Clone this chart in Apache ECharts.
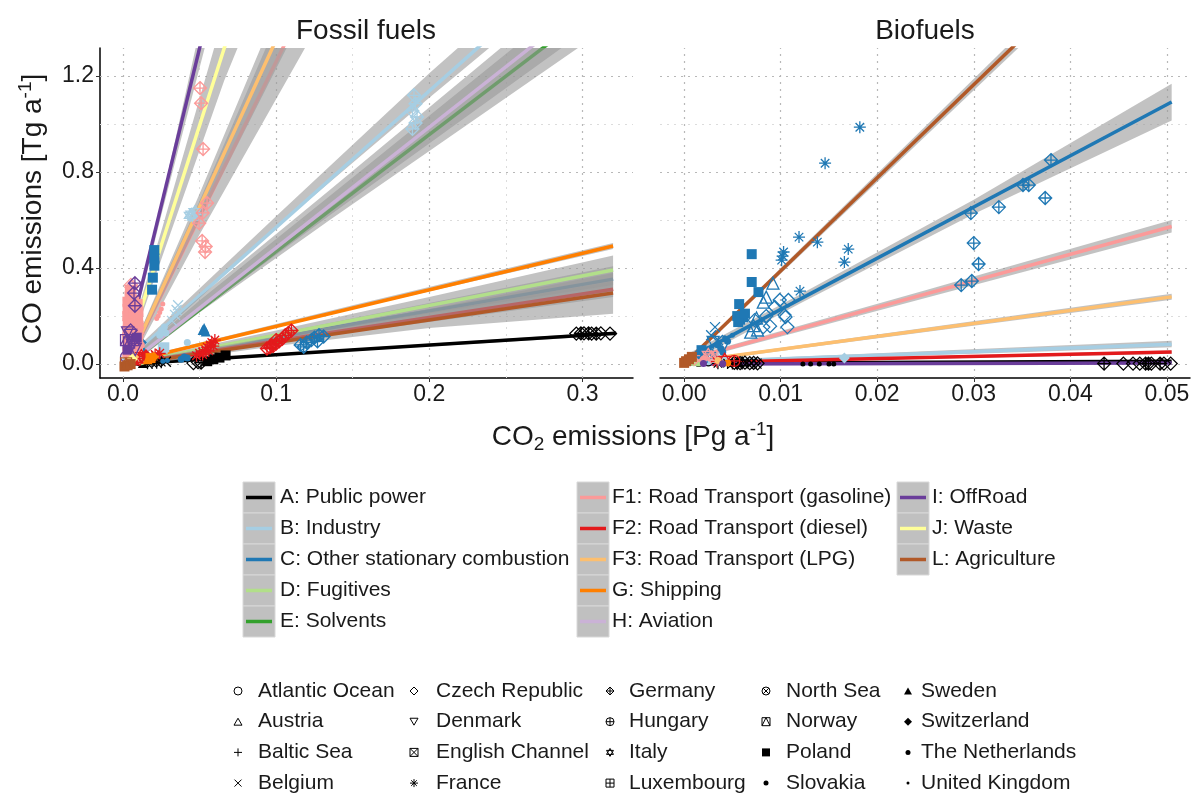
<!DOCTYPE html>
<html><head><meta charset="utf-8">
<script src="https://cdn.jsdelivr.net/npm/echarts@6/dist/echarts.min.js"></script>
<style>html,body{margin:0;padding:0;background:#fff}#c{width:1193px;height:794px}</style>
</head><body><div id="c"></div>
<script>
// ---------------- DATA ----------------
const sectorNames = ['A: Public power','B: Industry','C: Other stationary combustion','D: Fugitives','E: Solvents',
  'F1: Road Transport (gasoline)','F2: Road Transport (diesel)','F3: Road Transport (LPG)','G: Shipping','H: Aviation',
  'I: OffRoad','J: Waste','L: Agriculture'];
const countryNames = ['Atlantic Ocean','Austria','Baltic Sea','Belgium','Czech Republic','Denmark','English Channel',
  'France','Germany','Hungary','Italy','Luxembourg','North Sea','Norway','Poland','Slovakia','Sweden','Switzerland',
  'The Netherlands','United Kingdom'];
const panelTitles = ['Fossil fuels','Biofuels'];
const xTicksFossil = [0, 0.1, 0.2, 0.3];
const xMinorFossil = [0.05, 0.15, 0.25];
const xTicksBio = [0, 0.01, 0.02, 0.03, 0.04, 0.05];
const xMinorBio = [0.005, 0.015, 0.025, 0.035, 0.045];
const yTicks = [0, 0.4, 0.8, 1.2];
const yMinor = [0.2, 0.6, 1.0];

// regression lines: [sector, x0, y0, x1, y1]
const fossilFits = [
  [0, 0.004, 0.000, 0.322, 0.128],
  [1, 0.004, 0.023, 0.300, 1.707],
  [2, 0.004, 0.005, 0.320, 0.354],
  [3, 0.004, 0.003, 0.320, 0.392],
  [4, 0.004, 0.002, 0.300, 1.443],
  [5, 0.003, 0.000, 0.120, 1.520],
  [6, 0.004, 0.002, 0.320, 0.312],
  [7, 0.003, 0.000, 0.115, 1.560],
  [8, 0.004, 0.011, 0.320, 0.492],
  [9, 0.004, 0.002, 0.300, 1.490],
  [10, 0.004, 0.110, 0.060, 1.578],
  [11, 0.004, 0.074, 0.075, 1.494],
  [12, 0.004, 0.000, 0.320, 0.296]
];
// confidence bands: [sector, [[x, lower, upper], ...]]
const fossilBands = [
  [0, [[0.004,-0.005,0.005],[0.15,0.055,0.064],[0.322,0.120,0.136]]],
  [1, [[0.004,0.008,0.038],[0.1,0.568,0.616],[0.2,1.110,1.212],[0.3,1.640,1.775]]],
  [2, [[0.004,0.000,0.010],[0.1,0.102,0.126],[0.2,0.195,0.255],[0.32,0.300,0.408]]],
  [3, [[0.004,-0.003,0.010],[0.1,0.110,0.140],[0.2,0.212,0.280],[0.32,0.330,0.452]]],
  [4, [[0.004,-0.010,0.015],[0.05,0.215,0.265],[0.135,0.600,0.700],[0.3,1.330,1.550]]],
  [5, [[0.003,-0.020,0.020],[0.05,0.540,0.680],[0.12,1.330,1.710]]],
  [6, [[0.004,-0.003,0.008],[0.1,0.090,0.110],[0.2,0.175,0.215],[0.32,0.280,0.345]]],
  [7, [[0.003,-0.015,0.015],[0.05,0.600,0.710],[0.115,1.420,1.700]]],
  [8, [[0.004,0.005,0.017],[0.15,0.230,0.245],[0.32,0.480,0.505]]],
  [9, [[0.004,-0.010,0.020],[0.05,0.220,0.280],[0.135,0.620,0.725],[0.3,1.380,1.600]]],
  [10, [[0.004,0.085,0.135],[0.025,0.620,0.670],[0.06,1.480,1.680]]],
  [11, [[0.004,0.050,0.100],[0.026,0.455,0.575],[0.066,1.180,1.460],[0.075,1.320,1.670]]],
  [12, [[0.004,-0.010,0.010],[0.1,0.075,0.115],[0.2,0.150,0.230],[0.32,0.210,0.380]]]
];
const bioFits = [
  [0, 0.0005, 0.003, 0.0505, 0.012],
  [1, 0.0005, 0.008, 0.0505, 0.083],
  [2, 0.0005, 0.025, 0.0505, 1.092],
  [5, 0.0012, 0.029, 0.0505, 0.573],
  [6, 0.0005, 0.006, 0.0505, 0.050],
  [7, 0.0035, 0.026, 0.0505, 0.280],
  [10, 0.0005, 0.000, 0.0505, 0.004],
  [12, 0.0000, 0.000, 0.0360, 1.397]
];
const bioBands = [
  [1, [[0.0005,0.004,0.012],[0.0505,0.070,0.097]]],
  [2, [[0.0005,0.005,0.045],[0.012,0.252,0.290],[0.03,0.625,0.685],[0.0505,1.015,1.168]]],
  [5, [[0.0012,0.020,0.038],[0.025,0.275,0.308],[0.0505,0.548,0.600]]],
  [6, [[0.0005,0.002,0.010],[0.0505,0.043,0.057]]],
  [7, [[0.0035,0.020,0.032],[0.0505,0.268,0.293]]],
  [12, [[0.0,-0.006,0.006],[0.036,1.370,1.425]]]
];

// points: [sector, country, x, y]
const fossilPoints = [
  [0,4,0.296,0.127],[0,4,0.301,0.128],[0,4,0.306,0.127],[0,4,0.312,0.128],[0,4,0.318,0.127],
  [0,8,0.299,0.128],[0,8,0.304,0.128],[0,8,0.309,0.127],
  [0,4,0.046,0.004],[0,4,0.049,0.008],[0,8,0.051,0.006],[0,14,0.055,0.012],[0,14,0.059,0.020],
  [0,14,0.063,0.027],[0,14,0.067,0.036],[0,7,0.016,0.003],[0,7,0.019,0.005],[0,7,0.022,0.006],
  [0,7,0.025,0.008],[0,3,0.028,0.010],[0,18,0.006,0.000],[0,19,0.010,0.002],[0,16,0.013,0.004],[0,14,0.004,0.001],
  [1,8,0.190,1.120],[1,8,0.191,1.085],[1,8,0.189,1.055],[1,8,0.192,1.030],[1,8,0.191,1.005],[1,8,0.189,0.980],
  [1,10,0.045,0.625],[1,10,0.047,0.635],[1,10,0.046,0.612],[1,10,0.044,0.620],
  [1,3,0.032,0.180],[1,3,0.034,0.205],[1,3,0.035,0.225],[1,3,0.036,0.245],
  [1,18,0.024,0.120],[1,18,0.025,0.140],[1,18,0.027,0.155],[1,18,0.028,0.130],
  [1,14,0.026,0.064],[1,14,0.027,0.070],[1,15,0.042,0.090],[1,17,0.003,0.020],[1,17,0.006,0.040],[1,13,0.009,0.050],
  [2,14,0.0205,0.475],[2,14,0.0205,0.440],[2,14,0.0205,0.410],[2,14,0.0195,0.360],[2,14,0.0190,0.310],
  [2,8,0.116,0.080],[2,8,0.118,0.072],[2,8,0.120,0.090],[2,8,0.123,0.100],[2,8,0.125,0.110],
  [2,8,0.127,0.095],[2,8,0.128,0.120],[2,8,0.131,0.115],
  [2,16,0.052,0.142],[2,16,0.054,0.136],[2,16,0.053,0.150],
  [2,18,0.038,0.020],[2,18,0.040,0.030],[2,18,0.042,0.025],
  [2,18,0.009,0.050],[2,19,0.011,0.070],[2,17,0.012,0.090],[2,15,0.010,0.100],[2,19,0.013,0.060],
  [2,19,0.029,0.015],[2,19,0.026,0.012],
  [3,17,0.005,0.010],[3,18,0.008,0.020],[3,15,0.012,0.010],
  [4,18,0.003,0.000],[4,17,0.006,0.005],
  [5,8,0.0503,1.150],[5,8,0.0510,1.087],[5,8,0.0523,0.896],[5,8,0.0549,0.671],[5,8,0.0520,0.630],
  [5,8,0.0497,0.587],[5,8,0.0517,0.513],[5,8,0.0536,0.467],[5,8,0.0540,0.490],
  [5,14,0.0028,0.050],[5,14,0.0030,0.080],[5,14,0.0027,0.110],[5,14,0.0029,0.140],[5,14,0.0031,0.170],
  [5,14,0.0028,0.200],[5,14,0.0030,0.230],[5,14,0.0029,0.260],
  [5,14,0.0040,0.045],[5,14,0.0042,0.075],[5,14,0.0041,0.105],[5,14,0.0043,0.135],[5,14,0.0040,0.165],
  [5,14,0.0042,0.195],[5,14,0.0041,0.225],[5,14,0.0044,0.255],[5,14,0.0043,0.282],[5,14,0.0045,0.310],
  [5,14,0.0055,0.290],[5,14,0.0058,0.270],
  [5,14,0.0068,0.060],[5,14,0.0070,0.090],[5,14,0.0069,0.120],[5,14,0.0071,0.150],[5,14,0.0072,0.180],
  [5,14,0.0068,0.210],[5,14,0.0070,0.235],[5,14,0.0073,0.260],
  [5,14,0.0098,0.070],[5,14,0.0100,0.100],[5,14,0.0097,0.130],[5,14,0.0102,0.160],[5,14,0.0099,0.190],
  [5,14,0.0101,0.220],[5,14,0.0096,0.250],
  [5,10,0.0090,0.100],[5,10,0.0095,0.140],[5,7,0.0100,0.170],[5,7,0.0085,0.200],[5,18,0.0110,0.050],
  [5,18,0.0120,0.080],[5,4,0.0055,0.320],[5,4,0.0052,0.330],[5,3,0.0080,0.030],
  [5,19,0.023,0.200],[5,19,0.025,0.230],[5,19,0.026,0.250],[5,19,0.024,0.215],[5,19,0.022,0.190],
  [6,7,0.048,0.035],[6,7,0.050,0.045],[6,7,0.052,0.050],[6,7,0.054,0.060],[6,7,0.055,0.070],[6,7,0.057,0.080],
  [6,7,0.058,0.090],[6,7,0.060,0.100],[6,7,0.056,0.055],[6,7,0.052,0.040],[6,7,0.059,0.075],
  [6,8,0.094,0.065],[6,8,0.096,0.070],[6,8,0.098,0.075],[6,8,0.100,0.085],[6,8,0.102,0.095],[6,8,0.104,0.105],
  [6,8,0.106,0.120],[6,8,0.108,0.130],[6,8,0.110,0.140],[6,8,0.100,0.100],[6,8,0.097,0.080],
  [6,10,0.011,0.020],[6,10,0.012,0.035],[6,9,0.014,0.025],[6,16,0.008,0.015],[6,17,0.015,0.040],
  [6,7,0.021,0.040],[6,7,0.024,0.045],[6,7,0.019,0.030],
  [7,18,0.005,0.020],[7,17,0.007,0.030],
  [8,14,0.018,0.025],[8,17,0.020,0.030],[8,16,0.016,0.020],
  [9,18,0.004,0.005],
  [10,8,0.0078,0.337],[10,8,0.0072,0.296],[10,8,0.0078,0.243],
  [10,5,0.003,0.130],[10,5,0.005,0.120],[10,13,0.007,0.100],[10,13,0.004,0.090],[10,5,0.006,0.080],
  [10,14,0.009,0.110],[10,13,0.002,0.100],[10,5,0.008,0.060],[10,14,0.003,0.060],[10,4,0.005,0.140],[10,0,0.002,0.030],
  [11,18,0.004,0.010],[11,17,0.006,0.020],
  [12,14,0.001,-0.010],[12,14,0.003,-0.005],[12,14,0.005,0.000],[12,13,0.002,0.003]
];
const bioPoints = [
  [0,8,0.0435,0.002],[0,4,0.0455,0.002],[0,4,0.0465,0.002],[0,4,0.0472,0.002],[0,8,0.0478,0.002],
  [0,8,0.0481,0.002],[0,4,0.0484,0.002],[0,8,0.0493,0.002],[0,4,0.0497,0.002],[0,4,0.0504,0.002],
  [0,7,0.0035,0.003],[0,7,0.0045,0.004],[0,7,0.0050,0.002],[0,10,0.0055,0.003],[0,10,0.0060,0.005],
  [0,3,0.0070,0.003],[0,3,0.0075,0.002],[0,18,0.0015,0.002],[0,18,0.0025,0.004],
  [0,4,0.0052,0.005],[0,4,0.0058,0.004],[0,4,0.0063,0.006],[0,4,0.0068,0.004],[0,4,0.0072,0.005],[0,4,0.0076,0.003],
  [0,19,0.0123,0.000],[0,19,0.0131,0.000],[0,19,0.0140,0.000],[0,19,0.0150,0.000],[0,19,0.0155,0.000],
  [1,17,0.0166,0.025],[1,10,0.0035,0.020],[1,10,0.0040,0.015],[1,18,0.0025,0.010],[1,15,0.0030,0.035],
  [2,8,0.0297,0.629],[2,8,0.0326,0.654],[2,8,0.0351,0.746],[2,8,0.0357,0.746],[2,8,0.0380,0.850],
  [2,8,0.0374,0.692],[2,8,0.0300,0.504],[2,8,0.0305,0.417],[2,8,0.0298,0.346],[2,8,0.0287,0.329],
  [2,7,0.0182,0.987],[2,7,0.0146,0.837],[2,7,0.0119,0.529],[2,7,0.0138,0.508],[2,7,0.0170,0.479],
  [2,7,0.0166,0.425],[2,7,0.0103,0.467],[2,7,0.0101,0.433],[2,7,0.0120,0.304],[2,7,0.0102,0.450],
  [2,14,0.0070,0.458],[2,14,0.0070,0.342],[2,14,0.0077,0.300],[2,14,0.0057,0.250],[2,14,0.0055,0.200],
  [2,14,0.0058,0.185],[2,14,0.0061,0.195],[2,14,0.0056,0.175],[2,14,0.0063,0.210],[2,14,0.0018,0.058],
  [2,1,0.0092,0.337],[2,1,0.0085,0.279],[2,1,0.0082,0.258],[2,1,0.0069,0.133],[2,1,0.0076,0.142],
  [2,1,0.0075,0.192],[2,1,0.0072,0.160],
  [2,4,0.0099,0.267],[2,4,0.0108,0.267],[2,4,0.0094,0.238],[2,4,0.0104,0.204],[2,4,0.0105,0.196],
  [2,4,0.0107,0.154],[2,4,0.0089,0.158],[2,4,0.0082,0.154],[2,4,0.0073,0.183],[2,4,0.0085,0.200],
  [2,3,0.0032,0.154],[2,3,0.0035,0.100],[2,3,0.0028,0.120],
  [2,5,0.0030,0.090],[2,5,0.0040,0.070],[2,18,0.0025,0.060],[2,18,0.0030,0.040],[2,18,0.0035,0.080],
  [2,18,0.0040,0.050],[2,18,0.0020,0.030],[2,18,0.0045,0.095],[2,19,0.0015,0.020],[2,19,0.0042,0.110],
  [2,19,0.0050,0.120],[2,15,0.0038,0.065],[2,9,0.0025,0.045],[2,11,0.0018,0.030],
  [3,18,0.0015,0.004],[3,18,0.0010,0.006],
  [5,10,0.0025,0.040],[5,10,0.0028,0.030],[5,18,0.0020,0.020],[5,3,0.0015,0.015],
  [6,7,0.0034,0.010],[6,9,0.0052,0.013],[6,10,0.0042,0.020],
  [7,18,0.0035,0.015],
  [8,18,0.0045,0.004],
  [10,18,0.0020,0.002],[10,18,0.0040,0.001],
  [12,14,0.0000,0.005],[12,14,0.0002,0.012],[12,14,0.0005,0.020],[12,14,0.0008,0.030]
];

// ---------------- STYLE ----------------
const FONT = '"Liberation Sans", Arial, Helvetica, sans-serif';
const TXT = '#1a1a1a';
const sectorColors = ['#000000','#A6CEE3','#1F78B4','#B2DF8A','#33A02C','#FB9A99','#E31A1C','#FDBF6F','#FF7F00','#CAB2D6','#6A3D9A','#FFFF99','#B15928'];
const CIRC = 'M0,5 A5,5 0 1,0 10,5 A5,5 0 1,0 0,5 Z';
const shapePaths = [
  CIRC,
  'M5,0 L10,8.66 L0,8.66 Z',
  'M5,0 L5,10 M0,5 L10,5',
  'M0,0 L10,10 M10,0 L0,10',
  'M5,0 L10,5 L5,10 L0,5 Z',
  'M0,0 L10,0 L5,8.66 Z',
  'M0,0 L10,0 L10,10 L0,10 Z M0,0 L10,10 M10,0 L0,10',
  'M5,0 L5,10 M0,5 L10,5 M1.46,1.46 L8.54,8.54 M8.54,1.46 L1.46,8.54',
  'M5,0 L10,5 L5,10 L0,5 Z M5,0 L5,10 M0,5 L10,5',
  CIRC + ' M5,0 L5,10 M0,5 L10,5',
  'M5,0 L9.33,7.5 L0.67,7.5 Z M5,10 L0.67,2.5 L9.33,2.5 Z',
  'M0,0 L10,0 L10,10 L0,10 Z M5,0 L5,10 M0,5 L10,5',
  CIRC + ' M1.46,1.46 L8.54,8.54 M8.54,1.46 L1.46,8.54',
  'M0,0 L10,0 L10,10 L0,10 Z M0,10 L5,0 L10,10',
  'M0,0 L10,0 L10,10 L0,10 Z',
  CIRC,
  'M5,0 L10,8.66 L0,8.66 Z',
  'M5,0 L10,5 L5,10 L0,5 Z',
  CIRC,
  CIRC
];
const shapeFilled = [0,0,0,0,0,0,0,0,0,0,0,0,0,0,1,1,1,1,1,1];
const shapeSize = [11,12,11,10,13,12,11,12,13,11,12,11,11,11,10,7,10,11,7,5];
const legendSize = [8,8,8,7,8,8,8,8,8,8,8,8,8,8,8,5,8,8,5,3];
const BAND = 'rgba(153,153,153,0.6)';

function pointItem(p) {
  const col = sectorColors[p[0]], c = p[1];
  return {
    value: [p[2], p[3]],
    symbol: 'path://' + shapePaths[c],
    symbolSize: shapeSize[c],
    itemStyle: shapeFilled[c] ? {color: col, borderWidth: 0, opacity: 1}
                              : {color: 'rgba(0,0,0,0)', borderColor: col, borderWidth: 1.3, opacity: 1}
  };
}

function panelSeries(pi, fits, bands, points) {
  const ax = {xAxisIndex: pi, yAxisIndex: pi};
  const xt = pi === 0 ? xTicksFossil : xTicksBio;
  const xm = pi === 0 ? xMinorFossil : xMinorBio;
  const major = {color: '#b8b8b8', width: 1.2, type: [2, 5]};
  const minor = {color: '#dcdcdc', width: 1, type: [2, 5]};
  const out = [];
  out.push({
    type: 'scatter', ...ax, data: [], silent: true, z: 1,
    markLine: {
      silent: true, symbol: ['none', 'none'], label: {show: false}, z: 1, animation: false,
      data: [].concat(
        xm.map(v => ({xAxis: v, lineStyle: minor})),
        yMinor.map(v => ({yAxis: v, lineStyle: minor})),
        xt.map(v => ({xAxis: v, lineStyle: major})),
        yTicks.map(v => ({yAxis: v, lineStyle: major}))
      )
    }
  });
  for (let s = 0; s < sectorNames.length; s++) {
    const band = bands.find(b => b[0] === s);
    if (band) {
      const bp = band[1];
      out.push({
        type: 'custom', ...ax, z: 3 + 2 * s, silent: true, clip: true,
        data: bp.map(p => [p[0], p[1], p[2]]),
        encode: {x: 0, y: 1},
        renderItem: function (params, api) {
          if (params.dataIndex !== 0) return null;
          const up = bp.map(p => api.coord([p[0], p[2]]));
          const lo = bp.map(p => api.coord([p[0], p[1]])).reverse();
          return {type: 'polygon', shape: {points: up.concat(lo)}, style: {fill: BAND}, silent: true};
        }
      });
    }
    const fit = fits.find(f => f[0] === s);
    if (fit) {
      out.push({
        type: 'line', ...ax, z: 4 + 2 * s, silent: true, symbol: 'none', clip: true,
        data: [[fit[1], fit[2]], [fit[3], fit[4]]],
        lineStyle: {color: sectorColors[s], width: 3.5},
        itemStyle: {color: sectorColors[s]}
      });
    }
  }
  // points on top of ribbons and fitted lines
  for (let s = 0; s < sectorNames.length; s++) {
    const pts = points.filter(p => p[0] === s);
    if (pts.length) out.push({type: 'scatter', ...ax, z: 40, silent: true, itemStyle: {opacity: 1}, data: pts.map(pointItem)});
  }
  return out;
}

// ---------------- TITLES & LEGENDS (graphic) ----------------
const graphics = [];
graphics.push({type: 'text', x: 366, y: 31, style: {text: panelTitles[0], fontSize: 28, fontFamily: FONT, fill: TXT, align: 'center', verticalAlign: 'middle'}});
graphics.push({type: 'text', x: 925, y: 31, style: {text: panelTitles[1], fontSize: 28, fontFamily: FONT, fill: TXT, align: 'center', verticalAlign: 'middle'}});
graphics.push({type: 'text', x: 33, y: 209, rotation: Math.PI / 2, style: {
  text: '{b|CO emissions [Tg a}{s|-1}{b|]}', fill: TXT, fontFamily: FONT, align: 'center', verticalAlign: 'middle',
  rich: {b: {fontSize: 28, lineHeight: 34, fontFamily: FONT, fill: TXT}, s: {fontSize: 19, lineHeight: 19, verticalAlign: 'top', fontFamily: FONT, fill: TXT}}}});
graphics.push({type: 'text', x: 633, y: 437, style: {
  text: '{b|CO}{t|2}{b| emissions [Pg a}{s|-1}{b|]}', fill: TXT, fontFamily: FONT, align: 'center', verticalAlign: 'middle',
  rich: {b: {fontSize: 28, lineHeight: 34, fontFamily: FONT, fill: TXT},
         s: {fontSize: 19, lineHeight: 19, verticalAlign: 'top', fontFamily: FONT, fill: TXT},
         t: {fontSize: 19, lineHeight: 19, verticalAlign: 'bottom', fontFamily: FONT, fill: TXT}}}});

const secCols = [{bx: 243, tx: 280, from: 0, to: 5}, {bx: 577, tx: 612, from: 5, to: 10}, {bx: 897, tx: 932, from: 10, to: 13}];
secCols.forEach(col => {
  for (let i = col.from; i < col.to; i++) {
    const r = i - col.from;
    const cy = 497.5 + 31 * r;
    graphics.push({type: 'rect', shape: {x: col.bx, y: cy - 15.5, width: 32, height: 31},
      style: {fill: '#c0c0c0', stroke: '#d8d8d8', lineWidth: 1}});
    graphics.push({type: 'line', shape: {x1: col.bx + 3, y1: cy, x2: col.bx + 29, y2: cy},
      style: {stroke: sectorColors[i], lineWidth: 3.5}});
    graphics.push({type: 'text', x: col.tx, y: cy, style: {text: sectorNames[i], fontSize: 21, fontFamily: FONT, fill: TXT, align: 'left', verticalAlign: 'middle'}});
  }
});
const cSymX = [238, 414, 610, 766, 908];
const cTxtX = [258, 436, 629, 786, 921];
countryNames.forEach((name, i) => {
  const col = Math.floor(i / 4), r = i % 4;
  const cy = 691 + 30.7 * r;
  graphics.push({type: 'text', x: cTxtX[col], y: cy, style: {text: name, fontSize: 21, fontFamily: FONT, fill: TXT, align: 'left', verticalAlign: 'middle'}});
});

// country legend symbols, drawn by a custom series in screen space
const legendSymbolSeries = {
  type: 'custom', coordinateSystem: 'none', silent: true, z: 50,
  data: countryNames.map((n, i) => [i]),
  renderItem: function (params, api) {
    const i = params.dataIndex;
    const col = Math.floor(i / 4), r = i % 4;
    const cy = 691 + 30.7 * r, cx = cSymX[col];
    const s = legendSize[i];
    return {
      type: 'path',
      shape: {pathData: shapePaths[i], layout: 'center', x: cx - s / 2, y: cy - s / 2, width: s, height: s},
      style: shapeFilled[i] ? {fill: '#000'} : {fill: 'none', stroke: '#000', lineWidth: 1, strokeNoScale: true},
      silent: true
    };
  }
};

// ---------------- CHART ----------------
const chart = echarts.init(document.getElementById('c'), null, {renderer: 'canvas'});
const axisLineStyle = {color: '#000', width: 1.5};
function xAxisDef(gi, min, max, ticks, digits) {
  return {
    gridIndex: gi, type: 'value', min: min, max: max,
    axisLine: {show: true, onZero: false, lineStyle: axisLineStyle},
    axisTick: {show: true, customValues: ticks, length: 4, lineStyle: {color: '#333'}},
    axisLabel: {customValues: ticks, formatter: v => v.toFixed(digits), fontSize: 23, fontFamily: FONT, color: TXT, margin: 5},
    splitLine: {show: false}
  };
}
chart.setOption({
  animation: false,
  backgroundColor: '#ffffff',
  textStyle: {fontFamily: FONT},
  grid: [
    {left: 100, top: 48, width: 533, height: 330},
    {left: 660, top: 48, width: 530, height: 330}
  ],
  xAxis: [
    xAxisDef(0, -0.015, 0.333, xTicksFossil, 1),
    xAxisDef(1, -0.0025, 0.0524, xTicksBio, 2)
  ],
  yAxis: [
    {gridIndex: 0, type: 'value', min: -0.058, max: 1.317,
     axisLine: {show: true, onZero: false, lineStyle: axisLineStyle},
     axisTick: {show: true, customValues: yTicks, length: 4, lineStyle: {color: '#333'}},
     axisLabel: {customValues: yTicks, formatter: v => v.toFixed(1), fontSize: 23, fontFamily: FONT, color: TXT, margin: 6},
     splitLine: {show: false}},
    {gridIndex: 1, type: 'value', min: -0.058, max: 1.317,
     axisLine: {show: false, onZero: false}, axisTick: {show: false}, axisLabel: {show: false}, splitLine: {show: false}}
  ],
  series: [].concat(
    panelSeries(0, fossilFits, fossilBands, fossilPoints),
    panelSeries(1, bioFits, bioBands, bioPoints),
    [legendSymbolSeries]
  ),
  graphic: graphics
});
</script>
</body></html>
